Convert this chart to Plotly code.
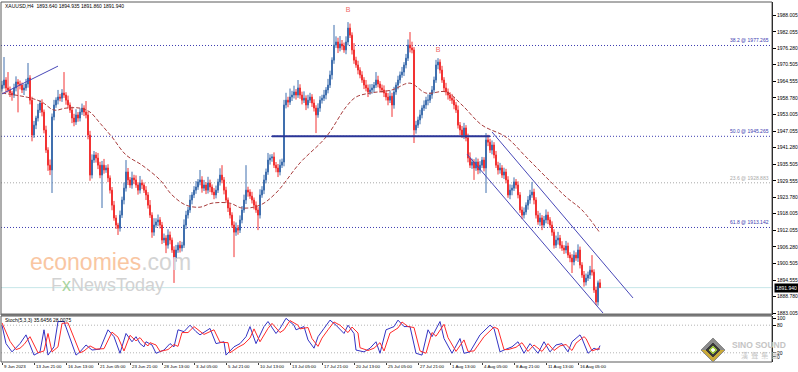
import plotly.graph_objects as go

# ---------------- data ----------------
first_open = 1962.0
closes = [
    1963.3, 1965.1, 1962.3, 1961.6, 1960.5, 1959.8, 1962.3, 1964.4, 1963.7, 1963.3,
    1961.6, 1962.3, 1963.7, 1965.8, 1958.0, 1945.7, 1949.2, 1951.7, 1954.5, 1957.0,
    1953.8, 1947.5, 1940.4, 1935.1, 1933.4, 1952.1, 1956.3, 1958.0, 1959.1, 1958.7,
    1960.5, 1959.8, 1958.0, 1956.3, 1954.5, 1951.7, 1950.3, 1952.8, 1951.7, 1953.8,
    1955.2, 1953.8, 1952.8, 1945.7, 1931.6, 1936.9, 1938.7, 1937.6, 1935.1, 1931.6,
    1935.1, 1933.4, 1934.1, 1930.6, 1926.3, 1921.0, 1916.5, 1914.0, 1912.9, 1917.5,
    1922.8, 1927.0, 1932.7, 1929.9, 1928.1, 1930.6, 1929.9, 1928.1, 1926.3, 1928.8,
    1928.1, 1926.3, 1924.6, 1921.0, 1917.5, 1911.5, 1914.0, 1915.1, 1915.8, 1914.0,
    1908.7, 1909.4, 1906.9, 1910.5, 1908.7, 1905.2, 1902.4, 1905.2, 1906.9, 1905.9,
    1906.9, 1914.0, 1917.5, 1919.3, 1922.8, 1924.6, 1926.3, 1927.4, 1929.2, 1929.9,
    1927.0, 1928.1, 1926.3, 1928.8, 1927.4, 1925.6, 1924.6, 1926.3, 1929.2, 1931.6,
    1929.9, 1926.3, 1922.8, 1920.0, 1917.5, 1914.0, 1911.5, 1912.9, 1912.2, 1915.8,
    1919.3, 1922.8, 1926.3, 1925.6, 1924.2, 1922.8, 1921.0, 1919.3, 1917.5, 1924.6,
    1926.3, 1929.9, 1932.7, 1936.9, 1937.6, 1938.0, 1935.1, 1934.1, 1932.7, 1935.1,
    1936.2, 1956.3, 1958.0, 1957.3, 1959.1, 1959.8, 1960.9, 1959.8, 1962.3, 1959.8,
    1958.0, 1958.7, 1956.3, 1958.0, 1959.1, 1957.0, 1955.2, 1952.8, 1955.2, 1958.0,
    1958.7, 1959.8, 1961.6, 1963.3, 1966.9, 1972.1, 1977.4, 1978.5, 1976.4, 1977.8,
    1977.1, 1975.7, 1978.5, 1983.4, 1980.9, 1975.7, 1972.1, 1970.4, 1968.6, 1966.9,
    1965.1, 1963.3, 1962.3, 1960.9, 1961.6, 1962.3, 1963.3, 1965.1, 1963.7, 1962.3,
    1961.6, 1960.5, 1959.1, 1958.0, 1959.4, 1956.3, 1960.9, 1963.3, 1965.1, 1966.9,
    1967.9, 1970.4, 1972.8, 1977.4, 1976.4, 1975.7, 1947.5, 1949.2, 1951.0, 1952.8,
    1955.2, 1956.3, 1958.0, 1958.0, 1959.8, 1961.6, 1965.1, 1970.4, 1971.4, 1968.6,
    1965.1, 1962.3, 1960.9, 1959.8, 1958.7, 1958.0, 1956.3, 1954.5, 1949.2, 1947.5,
    1945.7, 1948.2, 1944.7, 1937.6, 1935.1, 1936.2, 1934.1, 1936.2, 1933.4, 1935.1,
    1936.9, 1934.1, 1944.0, 1943.2, 1940.4, 1942.2, 1938.7, 1935.1, 1933.4, 1934.1,
    1931.6, 1932.7, 1929.9, 1924.6, 1926.3, 1927.0, 1929.2, 1928.1, 1924.6, 1919.3,
    1917.5, 1918.6, 1921.0, 1922.8, 1924.6, 1925.6, 1922.8, 1917.5, 1915.1, 1916.5,
    1914.0, 1915.8, 1917.5, 1915.8, 1914.0, 1911.5, 1906.9, 1908.7, 1909.4, 1906.9,
    1905.9, 1905.2, 1906.6, 1903.4, 1902.4, 1901.0, 1903.4, 1902.4, 1905.2, 1899.9,
    1896.4, 1893.9, 1895.3, 1896.4, 1898.1, 1897.4, 1891.1, 1886.9, 1893.64, 1891.94,
]
upper_wicks = [
    1.5, 8.1, 1.0, 5.6, 1.2, 0.8, 1.5, 2.0, 1.0, 1.2, 0.9, 1.4, 1.8, 5.3, 1.0, 1.2, 1.5, 0.8, 2.2, 1.0,
    1.3, 0.9, 1.5, 1.0, 2.0, 1.2, 1.8, 1.0, 2.5, 1.1, 1.4, 7.4, 1.0, 1.6, 0.9, 1.2, 1.5, 2.0, 1.0, 1.3,
    1.6, 1.0, 3.9, 1.2, 1.5, 2.0, 1.4, 1.0, 1.8, 1.2, 1.5, 2.2, 1.0, 1.3, 0.9, 1.1, 1.5, 1.0, 0.8, 1.6,
    1.2, 2.0, 4.2, 1.4, 1.0, 2.2, 1.1, 1.6, 1.0, 2.5, 1.2, 0.9, 1.4, 1.0, 1.8, 1.0, 2.4, 1.3, 1.9, 1.0,
    1.1, 1.6, 1.0, 2.0, 1.2, 0.9, 1.3, 1.8, 1.0, 1.5, 1.2, 2.0, 1.5, 1.1, 1.8, 1.0, 1.4, 2.1, 1.0, 3.5,
    1.3, 1.8, 1.0, 2.2, 1.2, 0.9, 1.4, 1.6, 1.1, 2.4, 3.5, 1.0, 1.2, 0.9, 1.5, 1.0, 1.3, 2.0, 1.1, 1.6,
    1.4, 1.9, 8.8, 1.2, 1.0, 1.5, 0.9, 1.3, 1.0, 2.0, 1.4, 1.8, 1.2, 2.5, 1.3, 1.0, 1.6, 1.1, 1.4, 2.0,
    1.2, 1.8, 2.6, 1.2, 3.0, 1.5, 2.2, 1.0, 2.8, 1.3, 1.2, 2.4, 1.0, 1.9, 1.5, 1.0, 1.3, 1.0, 1.7, 1.4,
    1.2, 1.8, 1.0, 2.2, 1.5, 1.0, 7.1, 2.0, 1.5, 2.8, 1.4, 1.2, 2.0, 2.1, 1.6, 1.0, 2.4, 1.2, 1.5, 1.0,
    1.3, 1.0, 1.8, 1.2, 2.0, 1.4, 1.1, 2.8, 1.5, 1.0, 1.2, 1.6, 1.0, 1.4, 2.0, 1.2, 1.8, 1.0, 1.5, 1.2,
    1.8, 1.0, 1.5, 2.0, 4.6, 2.2, 1.0, 1.5, 1.2, 1.8, 1.0, 1.6, 1.2, 2.0, 1.0, 1.4, 1.2, 1.8, 1.4, 1.0,
    1.5, 1.0, 1.8, 1.2, 1.0, 1.5, 1.2, 1.0, 1.6, 1.1, 1.4, 1.8, 1.0, 1.5, 2.0, 1.2, 1.0, 1.6, 1.2, 1.4,
    1.1, 1.0, 2.4, 1.8, 1.2, 1.6, 1.0, 1.4, 1.2, 1.8, 1.0, 1.5, 1.1, 1.3, 2.0, 1.2, 1.6, 1.0, 1.3, 1.0,
    1.2, 1.6, 1.0, 1.4, 1.8, 3.6, 1.2, 1.0, 1.5, 1.8, 1.0, 1.4, 2.0, 1.2, 1.0, 1.3, 1.0, 1.6, 2.2, 1.1,
    1.4, 1.0, 1.8, 1.2, 1.0, 1.3, 1.6, 1.0, 2.0, 1.2, 1.0, 1.4, 1.6, 1.2, 1.5, 5.3, 1.0, 1.2, 0.8, 1.3,
]
lower_wicks = [
    1.0, 1.2, 1.6, 0.9, 1.4, 2.0, 1.0, 1.2, 10.0, 1.5, 1.1, 1.8, 1.0, 1.3, 1.5, 2.2, 1.0, 1.4, 1.2, 1.0,
    1.5, 1.2, 1.0, 2.0, 1.8, 8.1, 1.2, 1.0, 1.5, 1.1, 1.3, 1.0, 1.6, 1.2, 1.0, 1.8, 1.5, 1.0, 1.3, 1.2,
    1.0, 1.4, 1.2, 1.5, 2.0, 1.2, 1.0, 1.6, 1.4, 1.1, 11.6, 1.3, 1.0, 1.5, 1.2, 1.8, 1.0, 1.4, 2.4, 1.2,
    1.0, 1.5, 1.2, 1.8, 1.0, 1.3, 1.5, 1.0, 1.6, 1.2, 1.4, 1.0, 1.8, 1.2, 1.0, 2.0, 1.3, 1.0, 1.5, 1.2,
    1.4, 1.0, 2.8, 1.2, 1.5, 1.0, 8.8, 1.3, 1.0, 1.6, 1.2, 1.0, 1.4, 1.2, 1.0, 1.5, 1.1, 1.3, 1.0, 1.2,
    1.6, 1.0, 1.4, 1.2, 1.8, 1.0, 1.5, 1.2, 1.0, 1.3, 1.2, 1.5, 1.0, 1.4, 1.2, 1.0, 8.8, 1.3, 1.6, 1.0,
    1.2, 1.0, 1.4, 1.6, 1.0, 1.2, 1.5, 1.0, 5.3, 1.2, 1.0, 1.4, 1.2, 1.0, 1.6, 1.3, 1.0, 1.5, 1.8, 1.2,
    1.0, 1.5, 1.2, 1.8, 1.0, 1.4, 1.2, 1.6, 1.0, 1.3, 1.5, 1.0, 1.8, 1.2, 1.0, 1.4, 1.2, 6.4, 1.0, 1.3,
    1.2, 1.0, 1.5, 1.2, 1.0, 1.6, 1.3, 1.0, 1.8, 1.2, 1.4, 1.0, 1.5, 1.2, 1.0, 1.6, 1.3, 1.0, 1.5, 1.2,
    1.0, 1.4, 1.2, 1.8, 1.0, 1.3, 1.5, 1.0, 1.2, 1.6, 1.0, 1.4, 1.2, 1.8, 1.0, 4.2, 1.3, 1.0, 1.5, 1.2,
    1.0, 1.4, 1.2, 1.0, 1.6, 1.2, 4.6, 1.3, 1.0, 1.5, 1.2, 1.0, 1.4, 1.8, 1.0, 1.3, 1.2, 1.0, 1.5, 1.2,
    1.0, 1.4, 1.2, 1.6, 1.0, 1.3, 1.5, 1.0, 1.2, 1.8, 1.0, 1.4, 1.2, 1.5, 1.0, 1.3, 4.2, 1.0, 1.5, 1.2,
    1.0, 1.2, 8.8, 1.4, 1.0, 1.5, 1.2, 1.0, 1.6, 1.3, 1.0, 1.4, 1.2, 1.0, 1.5, 1.8, 1.0, 1.3, 1.2, 1.0,
    1.4, 1.2, 1.0, 1.6, 1.3, 1.0, 1.5, 1.2, 1.0, 1.4, 1.8, 1.0, 1.2, 1.5, 1.0, 1.3, 1.2, 1.0, 1.6, 1.2,
    1.0, 1.4, 1.2, 1.0, 1.5, 3.9, 1.2, 1.0, 1.4, 1.2, 1.0, 1.6, 1.2, 1.0, 1.4, 1.2, 1.0, 1.1, 1.3, 0.08,
]

ma_bars = [0, 14, 20, 26, 32, 39, 44, 49, 55, 62, 70, 79, 85, 92, 99, 105, 114, 120, 129, 137,
           149, 162, 172, 177, 184, 195, 204, 212, 222, 230, 240, 252, 262, 272, 282, 290, 299]
ma_vals = [1960.5, 1958.8, 1957.3, 1954.5, 1955.2, 1955.2, 1953.8, 1949.9, 1945.0, 1938.7,
           1935.1, 1929.9, 1924.6, 1921.0, 1920.3, 1921.7, 1921.7, 1920.0, 1921.0, 1925.3,
           1935.9, 1945.0, 1955.6, 1959.1, 1960.5, 1961.6, 1964.0, 1960.5, 1960.9, 1956.3,
           1949.2, 1945.0, 1938.0, 1930.9, 1923.9, 1919.3, 1911.2]

stoch_k_bars = [0, 2, 5, 7, 9, 12, 16, 19, 21, 23, 26, 28, 31, 37, 39, 42, 45, 49, 53, 56,
                59, 62, 65, 67, 69, 71, 72, 75, 77, 81, 84, 86, 88, 91, 94, 97, 99, 104, 107, 111,
                112, 116, 119, 122, 124, 127, 131, 133, 137, 139, 142, 146, 147, 151, 153, 156, 158, 161, 164, 167,
                171, 173, 176, 177, 181, 184, 187, 189, 192, 196, 198, 201, 204, 207, 210, 213, 215, 219, 221, 225,
                229, 231, 234, 239, 244, 246, 249, 251, 255, 258, 261, 264, 268, 271, 274, 277, 280, 283, 285, 289,
                290, 293, 296, 298, 299]
stoch_k_vals = [80, 40, 22, 30, 40, 59, 15, 22, 70, 15, 33, 88, 88, 15, 22, 37, 26, 28, 70, 55,
                19, 62, 44, 55, 40, 33, 44, 37, 19, 26, 40, 33, 70, 66, 80, 66, 59, 73, 40, 44,
                15, 33, 40, 55, 77, 40, 77, 88, 62, 73, 95, 80, 70, 77, 48, 30, 55, 73, 91, 80,
                62, 80, 62, 26, 22, 30, 44, 19, 70, 77, 91, 77, 77, 19, 15, 70, 55, 88, 51, 19,
                51, 19, 22, 59, 80, 73, 22, 26, 33, 44, 19, 40, 19, 44, 22, 37, 40, 22, 44, 59,
                51, 19, 30, 26, 35.6456]
stoch_d_bars = [0, 4, 7, 9, 11, 14, 18, 21, 23, 25, 28, 30, 33, 39, 41, 44, 47, 51, 55, 58,
                61, 64, 67, 69, 71, 73, 74, 77, 79, 83, 86, 88, 90, 93, 96, 99, 101, 106, 109, 113,
                114, 118, 121, 124, 126, 129, 133, 135, 139, 141, 144, 148, 149, 153, 155, 158, 160, 163, 166, 169,
                173, 175, 178, 179, 183, 186, 189, 191, 194, 198, 200, 203, 206, 209, 212, 215, 217, 221, 223, 227,
                231, 233, 236, 241, 246, 248, 251, 253, 257, 260, 263, 266, 270, 273, 276, 279, 282, 285, 287, 291,
                292, 295, 298, 299]
stoch_d_vals = [85, 45, 27, 30, 38, 55, 20, 24, 62, 22, 33, 84, 85, 20, 24, 35, 28, 29, 65, 54,
                24, 58, 46, 53, 42, 35, 42, 37, 23, 27, 38, 34, 64, 64, 77, 66, 60, 70, 43, 42,
                20, 32, 39, 52, 72, 44, 73, 84, 64, 70, 90, 80, 72, 75, 51, 34, 52, 70, 87, 80,
                64, 76, 63, 31, 25, 30, 42, 24, 63, 74, 87, 77, 75, 24, 19, 64, 56, 82, 53, 23,
                48, 23, 24, 55, 76, 72, 27, 27, 32, 42, 23, 37, 23, 40, 25, 35, 38, 25, 41, 55,
                51, 24, 29, 28.0075]

x_tick_bars = [0, 16, 32, 48, 64, 80, 96, 112, 128, 144, 160, 176, 192, 208, 224, 240, 256, 272, 288]
x_tick_labels = ["9 Jun 2023", "13 Jun 21:00", "16 Jun 13:00", "21 Jun 05:00", "23 Jun 21:00",
                 "28 Jun 13:00", "3 Jul 05:00", "5 Jul 21:00", "10 Jul 13:00", "13 Jul 05:00",
                 "17 Jul 21:00", "20 Jul 13:00", "25 Jul 05:00", "27 Jul 21:00", "1 Aug 13:00",
                 "4 Aug 05:00", "8 Aug 21:00", "11 Aug 13:00", "16 Aug 05:00"]

price_ticks = [1988.005, 1982.055, 1976.280, 1970.505, 1964.555, 1958.780, 1953.005, 1947.055,
               1941.280, 1935.505, 1929.555, 1923.780, 1918.005, 1912.055, 1906.280, 1900.505,
               1894.555, 1888.780, 1883.005]
price_tick_labels = ["%.3f" % v for v in price_ticks]

stoch_ticks = [95.6, 80, 20, 10.9]
stoch_tick_labels = ["100", "80", "20", "0"]
stoch_levels = [80, 20]

fib_levels = [1977.265, 1945.265, 1928.883, 1913.142]
fib_labels = ["38.2 @ 1977.265", "50.0 @ 1945.265", "23.6 @ 1928.883", "61.8 @ 1913.142"]
fib_colors = ["#3c3cb0", "#3c3cb0", "#a8a8a8", "#3c3cb0"]

trend_bars = [0, 28]
trend_prices = [1960.2, 1970.0]
chan_low_bars = [232.5, 300.5]
chan_low_prices = [1939.0, 1883.0]
chan_up_bars = [245, 315.5]
chan_up_prices = [1946.8, 1888.3]
support_bars = [135, 244]
support_prices = [1945.3, 1945.3]
marker_bars = [173, 218]
marker_prices = [1989.8, 1975.7]
marker_text = ["B", "B"]

last_price = 1891.94
header_text = "XAUUSD,H4  1893.640 1894.935 1891.860 1891.940"
stoch_text = "Stoch(5,3,3) 35.6456 28.0075"

# ---------------- geometry ----------------
W, H = 798, 372
L, R, T, B = 1, 26, 2, 10
PW, PH = W - L - R, H - T - B


def px(x):
    return (x - L) / PW


def py(y):
    return (H - B - y) / PH


FONT = "Liberation Sans, Arial, sans-serif"

opens = [first_open] + closes[:-1]
highs = [max(o, c) + u for o, c, u in zip(opens, closes, upper_wicks)]
lows = [min(o, c) - d for o, c, d in zip(opens, closes, lower_wicks)]
bars = list(range(len(closes)))

fig = go.Figure()

fig.add_trace(go.Candlestick(
    x=bars, open=opens, high=highs, low=lows, close=closes,
    increasing=dict(line=dict(color="#3f6fae", width=1), fillcolor="#3f6fae"),
    decreasing=dict(line=dict(color="#f23232", width=1), fillcolor="#f23232"),
    whiskerwidth=0, xaxis="x", yaxis="y", showlegend=False, hoverinfo="skip"))

fig.add_trace(go.Scatter(x=ma_bars, y=ma_vals, mode="lines", line_shape="spline",
                         line=dict(color="#a83c3c", width=1, dash="4px,2px"),
                         xaxis="x", yaxis="y", showlegend=False, hoverinfo="skip"))

for bx, by, col, wd in [(trend_bars, trend_prices, "#4848b8", 1),
                        (chan_low_bars, chan_low_prices, "#4848b8", 1),
                        (chan_up_bars, chan_up_prices, "#4848b8", 1),
                        (support_bars, support_prices, "#2a3597", 2)]:
    fig.add_trace(go.Scatter(x=bx, y=by, mode="lines", line=dict(color=col, width=wd),
                             xaxis="x", yaxis="y", showlegend=False, hoverinfo="skip"))

fig.add_trace(go.Scatter(x=marker_bars, y=marker_prices, mode="text", text=marker_text,
                         textfont=dict(color="#f06868", size=7, family=FONT),
                         xaxis="x", yaxis="y", showlegend=False, hoverinfo="skip"))

fig.add_trace(go.Scatter(x=stoch_k_bars, y=stoch_k_vals, mode="lines",
                         line=dict(color="#3434c4", width=1),
                         xaxis="x2", yaxis="y2", showlegend=False, hoverinfo="skip"))
fig.add_trace(go.Scatter(x=stoch_d_bars, y=stoch_d_vals, mode="lines",
                         line=dict(color="#ff2a2a", width=1),
                         xaxis="x2", yaxis="y2", showlegend=False, hoverinfo="skip"))

main_dom = [py(315), 1]
stoch_dom = [0, py(316)]
xr = [-0.5, 385]

fig.update_layout(
    template="none",
    width=W, height=H, margin=dict(l=L, r=R, t=T, b=B, autoexpand=False),
    paper_bgcolor="white", plot_bgcolor="white", showlegend=False,
    font=dict(family=FONT, size=5, color="black"),
    xaxis=dict(domain=[0, 1], anchor="y", range=xr, showticklabels=False, showgrid=False,
               zeroline=False, showline=False, ticks="", automargin=False,
               rangeslider=dict(visible=False)),
    yaxis=dict(domain=main_dom, anchor="x", range=[1882.30, 1992.59], side="right",
               tickvals=price_ticks, ticktext=price_tick_labels, ticks="outside", ticklen=3,
               tickcolor="black", tickfont=dict(size=5, family=FONT), showgrid=False,
               zeroline=False, showline=True, linecolor="black", linewidth=1, automargin=False),
    xaxis2=dict(domain=[0, 1], anchor="y2", range=xr, showticklabels=False, showgrid=False,
                zeroline=False, tickvals=x_tick_bars, ticks="outside", ticklen=2,
                tickcolor="#404040", showline=False, automargin=False),
    yaxis2=dict(domain=stoch_dom, anchor="x2", range=[0, 100], side="right",
                tickvals=stoch_ticks, ticktext=stoch_tick_labels, ticks="outside", ticklen=3,
                tickcolor="black", tickfont=dict(size=5, family=FONT), showgrid=False,
                zeroline=False, showline=True, linecolor="black", linewidth=1, automargin=False),
)

shapes = []
for lv, col in zip(fib_levels, fib_colors):
    shapes.append(dict(type="line", xref="paper", yref="y", x0=0, x1=1, y0=lv, y1=lv,
                       line=dict(color=col, width=1, dash="1px,2px"), layer="below"))
shapes.append(dict(type="line", xref="paper", yref="y", x0=0, x1=1, y0=last_price, y1=last_price,
                   line=dict(color="#c6e6e8", width=1), layer="below"))
for lv in stoch_levels:
    shapes.append(dict(type="line", xref="paper", yref="y2", x0=0, x1=1, y0=lv, y1=lv,
                       line=dict(color="#b4b4b4", width=1, dash="1px,2px"), layer="below"))
shapes.append(dict(type="rect", xref="paper", yref="paper", x0=px(1), x1=1, y0=main_dom[0], y1=1,
                   line=dict(color="#5a5a5a", width=1)))
shapes.append(dict(type="rect", xref="paper", yref="paper", x0=px(1), x1=1, y0=0, y1=stoch_dom[1],
                   line=dict(color="#5a5a5a", width=1)))
shapes.append(dict(type="line", xref="paper", yref="paper", x0=px(1), x1=1, y0=py(314.5), y1=py(314.5),
                   line=dict(color="#707070", width=2)))
cx, cy = 713, 350


def diamond(r, fill, line):
    path = "M %f %f L %f %f L %f %f L %f %f Z" % (
        px(cx), py(cy - r), px(cx + r), py(cy), px(cx), py(cy + r), px(cx - r), py(cy))
    return dict(type="path", xref="paper", yref="paper", path=path,
                fillcolor=fill, line=dict(color=line, width=1), layer="above")


shapes.append(diamond(12, "#c9a93a", "#8a8a8a"))
shapes.append(dict(type="path", xref="paper", yref="paper",
                   path="M %f %f L %f %f L %f %f Z" % (px(cx - 12), py(cy), px(cx), py(cy - 12), px(cx + 12), py(cy)),
                   fillcolor="#8c8c8c", line=dict(width=0), layer="above"))
shapes.append(diamond(7, "#3a3a3a", "#3a3a3a"))
shapes.append(diamond(4, "#9cc43c", "#9cc43c"))
shapes.append(diamond(1.8, "#ffffff", "#ffffff"))

annotations = []
for b, t in zip(x_tick_bars, x_tick_labels):
    annotations.append(dict(x=b, xref="x2", y=py(366.5), yref="paper", text=t, showarrow=False,
                            xanchor="left", yanchor="middle", font=dict(size=4.4, family=FONT)))
for lv, lab, col in zip(fib_levels, fib_labels, fib_colors):
    annotations.append(dict(x=1, xref="paper", y=lv, yref="y", text=lab, showarrow=False,
                            xanchor="right", yanchor="bottom", xshift=-1,
                            font=dict(size=5, color=col, family=FONT)))
annotations.append(dict(x=px(774), xref="paper", y=last_price, yref="y", text="%.3f" % last_price,
                        showarrow=False, xanchor="left", yanchor="middle", bgcolor="black",
                        borderpad=1, font=dict(size=5, color="white", family=FONT)))
annotations.append(dict(x=px(3), xref="paper", y=py(6), yref="paper", text=header_text,
                        showarrow=False, xanchor="left", yanchor="middle",
                        font=dict(size=5, color="black", family=FONT)))
annotations.append(dict(x=px(3), xref="paper", y=py(320), yref="paper", text=stoch_text,
                        showarrow=False, xanchor="left", yanchor="middle",
                        font=dict(size=5, color="black", family=FONT)))
annotations.append(dict(x=px(110), xref="paper", y=py(262), yref="paper",
                        text='<span style="color:#f9c6a2">economies</span><span style="color:#d4d4d4">.com</span>',
                        showarrow=False, xanchor="center", yanchor="middle",
                        font=dict(size=23, family=FONT)))
annotations.append(dict(x=px(107), xref="paper", y=py(285), yref="paper",
                        text='F<span style="color:#a9d4a0">x</span>NewsToday',
                        showarrow=False, xanchor="center", yanchor="middle",
                        font=dict(size=18, family=FONT, color="#d2d2d2")))
annotations.append(dict(x=px(759), xref="paper", y=py(345), yref="paper", text="<b>SINO SOUND</b>",
                        showarrow=False, xanchor="center", yanchor="middle",
                        font=dict(size=8.5, family=FONT, color="#c4c4c4")))
annotations.append(dict(x=px(759), xref="paper", y=py(355), yref="paper", text="漢  聲  集  團",
                        showarrow=False, xanchor="center", yanchor="middle",
                        font=dict(size=7, family="Noto Sans CJK TC", color="#c4c4c4")))

fig.update_layout(shapes=shapes, annotations=annotations)
fig.write_html("out.html", config={"displayModeBar": False},
               post_script="document.body.style.margin='0px';document.body.style.overflow='hidden';")
